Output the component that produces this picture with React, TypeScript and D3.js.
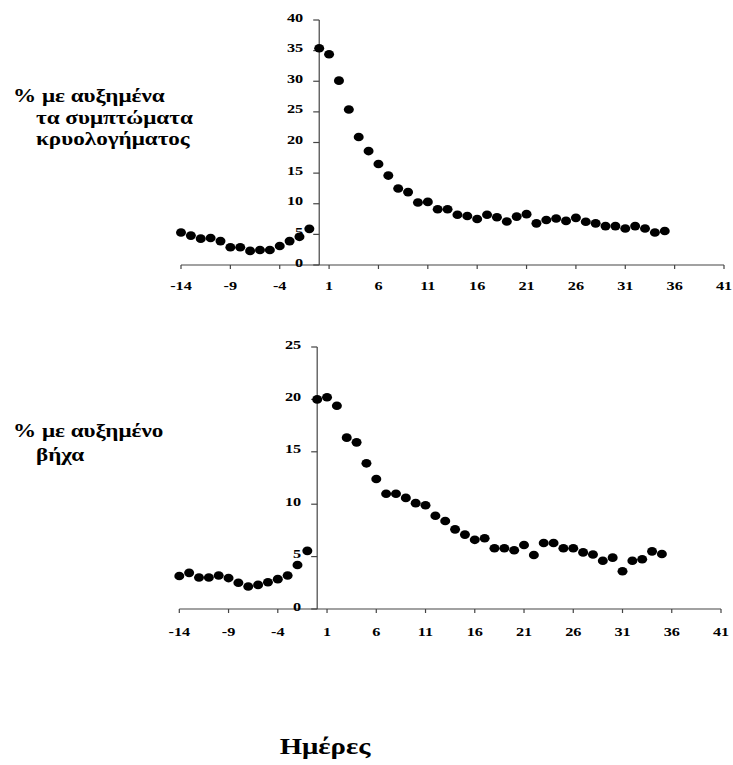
import React from 'react';
import * as d3 from 'd3';

// days relative to onset, -14 .. 35
const days = [
  -14, -13, -12, -11, -10, -9, -8, -7, -6, -5, -4, -3, -2, -1,
  0, 1, 2, 3, 4, 5, 6, 7, 8, 9, 10, 11, 12, 13, 14, 15, 16, 17, 18, 19,
  20, 21, 22, 23, 24, 25, 26, 27, 28, 29, 30, 31, 32, 33, 34, 35,
];

// % with increased cold symptoms
const coldValues = [
  5.3, 4.8, 4.3, 4.4, 3.9, 2.9, 2.9, 2.3, 2.45, 2.45, 3.1, 3.9, 4.6, 5.9,
  35.4, 34.4, 30.1, 25.4, 20.9, 18.6, 16.5, 14.6, 12.5, 11.9, 10.2, 10.3, 9.1, 9.1, 8.2, 8.0, 7.5, 8.2, 7.8, 7.1,
  7.9, 8.3, 6.8, 7.35, 7.6, 7.2, 7.7, 7.05, 6.8, 6.35, 6.35, 5.95, 6.35, 5.95, 5.3, 5.55,
];

// % with increased cough
const coughValues = [
  3.15, 3.45, 3.0, 3.0, 3.2, 2.95, 2.5, 2.15, 2.3, 2.55, 2.85, 3.2, 4.2, 5.55,
  20.0, 20.2, 19.4, 16.35, 15.9, 13.9, 12.4, 11.0, 11.0, 10.6, 10.1, 9.9, 8.9, 8.4, 7.6, 7.1, 6.6, 6.75, 5.8, 5.8,
  5.6, 6.1, 5.15, 6.3, 6.3, 5.8, 5.8, 5.4, 5.2, 4.6, 4.9, 3.6, 4.6, 4.75, 5.5, 5.25,
];

const xTicks = [-14, -9, -4, 1, 6, 11, 16, 21, 26, 31, 36, 41];
const coldTicks = [0, 5, 10, 15, 20, 25, 30, 35, 40];
const coughTicks = [0, 5, 10, 15, 20, 25];

const coldLabel = ['% με αυξημένα', 'τα συμπτώματα', 'κρυολογήματος'];
const coughLabel = ['% με αυξημένο', 'βήχα'];
const xTitle = 'Ημέρες';

const FONT = '"Liberation Serif", "Times New Roman", serif';
const STRETCH = 1.25; // the scan is a bit wide, so text is stretched sideways

type PanelProps = {
  values: number[];
  yTicks: number[];
  xRange: [number, number];
  yRange: [number, number];
  xLabelDy: number;
};

const Panel = ({ values, yTicks, xRange, yRange, xLabelDy }: PanelProps) => {
  const x = d3.scaleLinear().domain([-14, 41]).range(xRange);
  const y = d3.scaleLinear().domain([0, d3.max(yTicks) as number]).range(yRange);
  const x0 = x(0);
  const yb = y(0);

  return (
    <g>
      {/* x axis */}
      <line x1={x(-14)} x2={x(41)} y1={yb} y2={yb} stroke="#444" strokeWidth={1.2} />
      {xTicks.map(t => (
        <g key={t}>
          <line x1={x(t)} x2={x(t)} y1={yb} y2={yb + 4} stroke="#444" strokeWidth={1.2} />
          <text
            transform={`translate(${x(t)},${yb + xLabelDy}) scale(${STRETCH},1)`}
            textAnchor="middle"
            fontFamily={FONT}
            fontWeight="bold"
            fontSize={13}
          >
            {t}
          </text>
        </g>
      ))}
      {/* y axis */}
      <line x1={x0} x2={x0} y1={y(d3.max(yTicks) as number)} y2={yb} stroke="#444" strokeWidth={1.2} />
      {yTicks.map(t => (
        <g key={t}>
          <line x1={x0 - 6} x2={x0} y1={y(t)} y2={y(t)} stroke="#444" strokeWidth={1.2} />
          <text
            transform={`translate(${x0 - 16},${y(t) + 1.5}) scale(${STRETCH},1)`}
            textAnchor="end"
            fontFamily={FONT}
            fontWeight="bold"
            fontSize={13}
          >
            {t}
          </text>
        </g>
      ))}
      {values.map((v, i) => (
        <ellipse key={i} cx={x(days[i])} cy={y(v)} rx={5} ry={4.3} fill="#000" />
      ))}
    </g>
  );
};

const Label = ({ lines, x0, x1, y0, step }: { lines: string[]; x0: number; x1: number; y0: number; step: number }) => (
  <g>
    {lines.map((s, i) => (
      <text
        key={i}
        transform={`translate(${i === 0 ? x0 : x1},${y0 + i * step}) scale(${STRETCH},1)`}
        fontFamily={FONT}
        fontWeight="bold"
        fontSize={18.5}
      >
        {s}
      </text>
    ))}
  </g>
);

export default function App() {
  return (
    <svg
      width={733}
      height={765}
      style={{ position: 'absolute', left: 0, top: 0, background: '#fff' }}
    >
      <Panel values={coldValues} yTicks={coldTicks} xRange={[181, 724]} yRange={[265, 20]} xLabelDy={25} />
      <Panel values={coughValues} yTicks={coughTicks} xRange={[179.3, 721]} yRange={[609, 347]} xLabelDy={27} />
      <Label lines={coldLabel} x0={13} x1={36} y0={102} step={21.5} />
      <Label lines={coughLabel} x0={13} x1={36} y0={437} step={24} />
      <text
        transform={`translate(325,754) scale(${STRETCH},1)`}
        textAnchor="middle"
        fontFamily={FONT}
        fontWeight="bold"
        fontSize={23}
      >
        {xTitle}
      </text>
    </svg>
  );
}
